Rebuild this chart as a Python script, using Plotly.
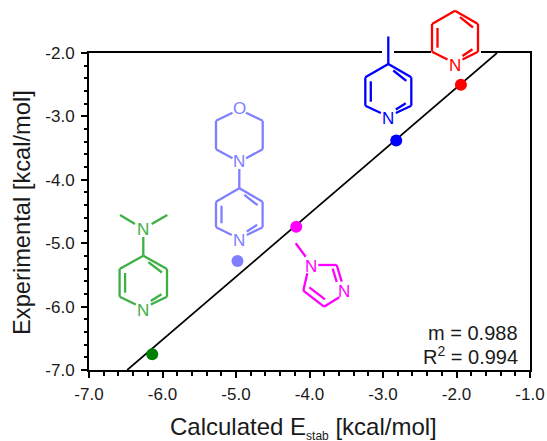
import plotly.graph_objects as go

# ---- data -----
calculated = [-6.14, -4.98, -4.18, -2.82, -1.94]
experimental = [-6.75, -5.28, -4.74, -3.38, -2.50]
point_colors = ["#008000", "#8080FF", "#FF00FF", "#0000FF", "#FF0000"]
fit_x = [-6.48, -1.45]
fit_y = [-7.0, -2.0]
x_ticks = [-7, -6, -5, -4, -3, -2, -1]
x_labels = ["-7.0", "-6.0", "-5.0", "-4.0", "-3.0", "-2.0", "-1.0"]
y_ticks = [-7, -6, -5, -4, -3, -2]
y_labels = ["-7.0", "-6.0", "-5.0", "-4.0", "-3.0", "-2.0"]

W, H = 547, 441
L, R, T, B = 89, 530, 53, 370
FONT = "Liberation Sans, Arial, sans-serif"
INK = "#1a1a1a"


def px(x):
    return (x - L) / (R - L)


def py(y):
    return 1 - (y - T) / (B - T)


shapes = []
annotations = []


def bond(x0, y0, x1, y1, color, w=2.3):
    shapes.append(dict(type="line", xref="paper", yref="paper", layer="above",
                       x0=px(x0), y0=py(y0), x1=px(x1), y1=py(y1),
                       line=dict(color=color, width=w)))


def atom(x, y, s, color, size=17):
    annotations.append(dict(x=px(x), y=py(y), xref="paper", yref="paper", text=s,
                            showarrow=False, xanchor="center", yanchor="middle",
                            font=dict(family=FONT, size=size, color=color)))


def pyridine(cx, apex, up, low, n, half, color):
    bond(cx, apex, cx + half, up, color)
    bond(cx + half, up, cx + half, low, color)
    bond(cx + half, low, cx + 7.5, n - 5.5, color)
    bond(cx, apex, cx - half, up, color)
    bond(cx - half, up, cx - half, low, color)
    bond(cx - half, low, cx - 7.5, n - 5.5, color)
    # inner double bonds
    bond(cx + 5, apex + 6.5, cx + half - 5, up + 3.5, color)
    bond(cx - half + 5.5, up + 4, cx - half + 5.5, low - 4, color)
    bond(cx + 7.5, n - 9, cx + half - 5.5, low - 2.5, color)
    atom(cx, n, "N", color)


# white gaps in the top frame behind the two uppermost molecules
for x0, x1 in [(382, 394), (431, 481)]:
    shapes.append(dict(type="rect", xref="paper", yref="paper", layer="above",
                       x0=px(x0), x1=px(x1), y0=py(50), y1=py(56),
                       fillcolor="white", line=dict(width=0)))

# red: pyridine
pyridine(455, 10.7, 24, 51.7, 65, 23, "#FF0000")

# blue: 4-methylpyridine
pyridine(388.3, 64, 77.3, 105.7, 118.5, 23, "#0000FF")
bond(388.3, 36.5, 388.3, 64, "#0000FF")

# periwinkle: 4-morpholinopyridine
C = "#8080FF"
pyridine(239.3, 188.3, 201.7, 227.3, 240.5, 23.3, C)
bond(239.3, 169, 239.3, 188.3, C)
atom(239.3, 161.7, "N", C)
atom(239.3, 108.5, "O", C)
bond(232.5, 112.7, 216, 120.7, C)
bond(216, 120.7, 216, 149.3, C)
bond(216, 149.3, 232.5, 158.3, C)
bond(246, 112.7, 262.7, 120.7, C)
bond(262.7, 120.7, 262.7, 149.3, C)
bond(262.7, 149.3, 246, 158.3, C)

# green: DMAP
C = "#3CB044"
pyridine(143.3, 255.7, 269, 296.7, 310, 23.7, C)
bond(143.3, 237, 143.3, 255.7, C)
atom(143.3, 229.3, "N", C)
bond(120, 215, 135, 224, C)
bond(167.3, 215, 151.7, 224, C)

# magenta: 1-methylimidazole
C = "#FF00FF"
atom(310.7, 266, "N", C)
atom(344, 291, "N", C)
bond(295.7, 243.3, 305.7, 256.7, C)
bond(318.3, 265, 336.7, 265, C)
bond(336.7, 265, 341.7, 281.7, C)
bond(332.7, 268.7, 336.7, 282, C)
bond(339.3, 297.3, 324, 306.7, C)
bond(324, 306.7, 303.3, 290.7, C)
bond(325, 299.3, 309.3, 287.3, C)
bond(303.3, 290.7, 307.3, 273.3, C)

# plain text notes
annotations.append(dict(x=px(519.5), y=py(332.5), xref="paper", yref="paper", text="m = 0.988",
                        showarrow=False, xanchor="right", yanchor="middle",
                        font=dict(family=FONT, size=20, color=INK)))
annotations.append(dict(x=px(519.5), y=py(355), xref="paper", yref="paper", text="R<sup>2</sup> = 0.994",
                        showarrow=False, xanchor="right", yanchor="middle",
                        font=dict(family=FONT, size=20, color=INK)))

# axis titles
annotations.append(dict(x=px(303.5), y=py(428), xref="paper", yref="paper",
                        text='Calculated E<sub><span style="font-size:12px">stab</span></sub> [kcal/mol]',
                        showarrow=False, xanchor="center", yanchor="middle",
                        font=dict(family=FONT, size=24, color=INK)))
annotations.append(dict(x=px(22), y=py(213), xref="paper", yref="paper",
                        text="Experimental [kcal/mol]", textangle=-90,
                        showarrow=False, xanchor="center", yanchor="middle",
                        font=dict(family=FONT, size=23.7, color=INK)))

fig = go.Figure()
fig.add_trace(go.Scatter(x=fit_x, y=fit_y, mode="lines", line=dict(color="black", width=1.7),
                         showlegend=False))
fig.add_trace(go.Scatter(x=calculated, y=experimental, mode="markers",
                         marker=dict(color=point_colors, size=12, line=dict(width=0)),
                         showlegend=False))

axis_common = dict(showgrid=False, zeroline=False, showline=True, mirror=True,
                   linecolor="black", linewidth=2, ticks="outside", ticklen=6,
                   tickwidth=2, tickcolor="black",
                   tickfont=dict(family=FONT, size=17, color=INK),
                   minor=dict(dtick=0.2, ticks="outside", ticklen=3.5, tickwidth=2,
                              tickcolor="black", showgrid=False))

fig.update_layout(
    width=W, height=H, autosize=False,
    margin=dict(l=L, r=W - R, t=T, b=H - B, pad=0, autoexpand=False),
    paper_bgcolor="white", plot_bgcolor="white",
    shapes=shapes, annotations=annotations,
    xaxis=dict(range=[-7, -1], tickmode="array", tickvals=x_ticks, ticktext=x_labels,
               ticklabelstandoff=2, **axis_common),
    yaxis=dict(range=[-7, -2], tickmode="array", tickvals=y_ticks, ticktext=y_labels,
               ticklabelstandoff=3, **axis_common),
)

fig.write_html("out.html", config=dict(displayModeBar=False),
               post_script="document.body.style.margin='0';")
